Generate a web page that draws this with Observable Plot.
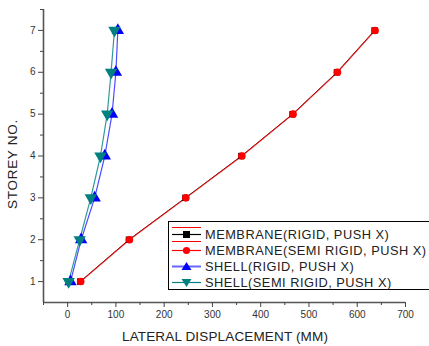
<!DOCTYPE html>
<html><head><meta charset="utf-8">
<script src="https://cdn.jsdelivr.net/npm/d3@7"></script>
<script src="https://cdn.jsdelivr.net/npm/@observablehq/plot@0.6"></script>
<style>
body{margin:0;background:#fff;font-family:"Liberation Sans",Arial,sans-serif}
#wrap{position:relative;width:429px;height:346px;overflow:hidden}
.title{position:absolute;font-size:13.5px;color:#222;white-space:nowrap;line-height:16px}
#legend{position:absolute;left:168px;top:221px;width:270px;height:67px;border:1px solid #000;background:#fff}
.row{position:absolute;left:0;height:16px;display:flex;align-items:center;font-size:12.8px;letter-spacing:0.5px;color:#222;white-space:nowrap}
.row svg{margin-left:3px;margin-right:4px}
</style></head><body>
<div id="wrap"></div>
<script>
const storeys = [1, 2, 3, 4, 5, 6, 7];
const membraneRigid = [26, 127, 244, 360, 466, 558, 636];
const membraneSemi = [27, 128, 245, 361, 467, 559, 637];
const shellRigid = [6, 28, 56, 77, 92, 100, 104];
const shellSemi = [2, 25, 48, 68, 82, 90, 97];
const seriesNames = ["MEMBRANE(RIGID, PUSH X)", "MEMBRANE(SEMI RIGID, PUSH X)", "SHELL(RIGID, PUSH X)", "SHELL(SEMI RIGID, PUSH X)"];
const seriesColors = ["#000000", "#ff0000", "#0000ff", "#008080"];
const xTicks = [0, 100, 200, 300, 400, 500, 600, 700];
const xMinor = [-50, 50, 150, 250, 350, 450, 550, 650];
const yTicks = [1, 2, 3, 4, 5, 6, 7];
const yMinor = [1.5, 2.5, 3.5, 4.5, 5.5, 6.5, 7.5];

const triangleDown = {
  draw(context, size) {
    const s3 = Math.sqrt(3);
    const y = -Math.sqrt(size / (s3 * 3));
    context.moveTo(0, -y * 2);
    context.lineTo(-s3 * y, y);
    context.lineTo(s3 * y, y);
    context.closePath();
  }
};

const seriesValues = [membraneRigid, membraneSemi, shellRigid, shellSemi];
const symbols = ["square", "circle", "triangle", triangleDown];
const radii = [3.6, 3.8, 4.6, 4.6];
const lineOpacity = [1, 0.85, 0.7, 0.8];
const lineWidths = [0.9, 1.1, 1.2, 1.2];

const marks = [];
marks.push(Plot.ruleY([0.5], {stroke: "#555", strokeWidth: 1.6}));
marks.push(Plot.ruleX([-50], {stroke: "#555", strokeWidth: 1.6}));
marks.push(Plot.axisX(xTicks, {tickSize: 5, tickPadding: 3, stroke: "#444", fill: "#333", label: null, fontSize: 10}));
marks.push(Plot.axisX(xMinor, {tickSize: 3, tickFormat: () => "", stroke: "#444", label: null}));
marks.push(Plot.axisY(yTicks, {tickSize: 5, tickPadding: 3, stroke: "#444", fill: "#333", label: null, fontSize: 10}));
marks.push(Plot.axisY(yMinor, {tickSize: 3, tickFormat: () => "", stroke: "#444", label: null}));

seriesValues.forEach((vals, k) => {
  const data = storeys.map((s, i) => ({x: vals[i], y: s}));
  marks.push(Plot.line(data, {x: "x", y: "y", stroke: seriesColors[k], strokeWidth: lineWidths[k], strokeOpacity: lineOpacity[k]}));
});
seriesValues.forEach((vals, k) => {
  const data = storeys.map((s, i) => ({x: vals[i], y: s}));
  marks.push(Plot.dot(data, {x: "x", y: "y", symbol: symbols[k], r: radii[k], fill: seriesColors[k], stroke: "none"}));
});

const chart = Plot.plot({
  width: 429, height: 346,
  marginLeft: 43, marginRight: 24, marginTop: 9, marginBottom: 44,
  x: {domain: [-50, 700]},
  y: {domain: [0.5, 7.5]},
  style: {fontFamily: '"Liberation Sans", Arial, sans-serif', fontSize: "10px", background: "#fff"},
  marks
});
const wrap = document.getElementById("wrap");
wrap.appendChild(chart);

const xt = document.createElement("div");
xt.className = "title";
xt.textContent = "LATERAL DISPLACEMENT (MM)";
xt.style.left = "122px"; xt.style.top = "329px";
xt.style.letterSpacing = "0.15px";
wrap.appendChild(xt);

const yt = document.createElement("div");
yt.className = "title";
yt.textContent = "STOREY NO.";
yt.style.letterSpacing = "0.7px";
yt.style.left = "13px"; yt.style.top = "164px";
yt.style.transform = "translate(-50%,-50%) rotate(-90deg)";
wrap.appendChild(yt);

const legend = document.createElement("div");
legend.id = "legend";
wrap.appendChild(legend);
const symPaths = [
  '<rect x="11" y="4" width="7" height="7" fill="#000"/>',
  '<circle cx="14.5" cy="7.5" r="3.6" fill="#ff0000"/>',
  '<path d="M14.5 3 L19.5 11 L9.5 11 Z" fill="#0000ff"/>',
  '<path d="M14.5 12 L19.5 4 L9.5 4 Z" fill="#008080"/>'
];
seriesNames.forEach((name, k) => {
  const row = document.createElement("div");
  row.className = "row";
  row.style.top = (4 + k * 16) + "px";
  const w = k === 2 ? 2 : 1.2;
  row.innerHTML = '<svg width="29" height="15">' +
    '<line x1="0" y1="7.5" x2="29" y2="7.5" stroke="' + seriesColors[k] + '" stroke-width="' + w + '" stroke-opacity="' + (k === 2 ? 0.6 : 1) + '"/>' +
    symPaths[k] +
    (k === 0 ? '<rect x="-2.5" y="0.5" width="33" height="14" fill="none" stroke="#ff0000" stroke-width="1"/>' : '') +
    '</svg><span>' + name + '</span>';
  legend.appendChild(row);
});
</script>
</body></html>
